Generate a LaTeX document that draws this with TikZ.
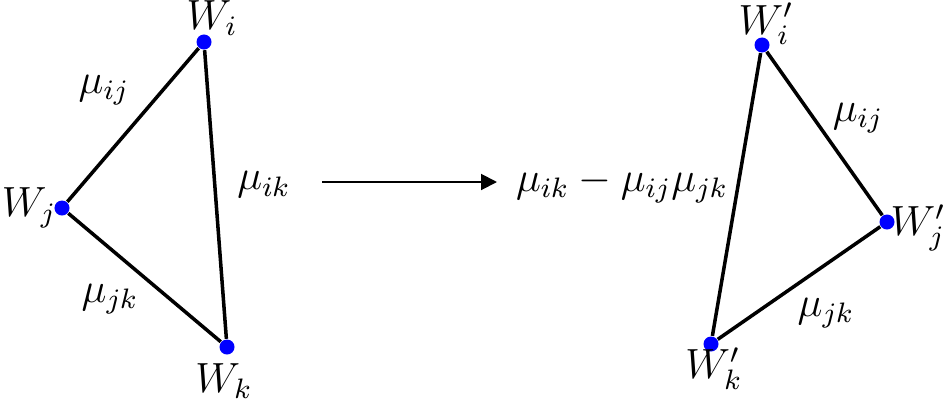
\documentclass[tikz,border=0pt]{standalone}
\usepackage{amsmath}
\usepackage{tikz}
\usetikzlibrary{positioning, arrows.meta}

\tikzset{
  vtx/.style={circle, fill=blue, inner sep=0pt, minimum size=0.15cm},
  edge/.style={line width=1pt},
  lbl/.style={font=\fontsize{11.6}{14}\selectfont, inner sep=1pt}
}

\begin{document}
\begin{tikzpicture}[x=0.01cm, y=-0.01cm]
\useasboundingbox (0,0) rectangle (943,403);
% left triangle
\node[vtx] (Wi) at (204,42) {};
\node[vtx] (Wj) at (62,208) {};
\node[vtx] (Wk) at (227,347) {};
\draw[edge] (Wi) -- (Wj) -- (Wk) -- (Wi);
\node[lbl] (lWi) at (212,18) {$W_i$};
\node[lbl] (lWj) at (29,208) {$W_j$};
\node[lbl] (lWk) at (224,381) {$W_k$};
\node[lbl] (mij) at (104,90) {$\mu_{ij}$};
\node[lbl] (mik) at (264,185) {$\mu_{ik}$};
\node[lbl] (mjk) at (110,299) {$\mu_{jk}$};
% arrow
\coordinate (a0) at (322,182);
\coordinate (a1) at (497,182);
\draw[line width=0.55pt, -{Triangle[length=4.5pt, width=4.5pt]}] (a0) -- (a1);
% right triangle
\node[vtx] (Vi) at (762,45) {};
\node[vtx] (Vj) at (887,222) {};
\node[vtx] (Vk) at (711,344) {};
\draw[edge] (Vi) -- (Vj) -- (Vk) -- (Vi);
\node[lbl] (lVi) at (766,24) {$W_i'$};
\node[lbl] (lVj) at (918,228) {$W_j'$};
\node[lbl] (lVk) at (714,369) {$W_k'$};
\node[lbl] (nij) at (858,118) {$\mu_{ij}$};
\node[lbl] (njk) at (826,313) {$\mu_{jk}$};
\node[lbl] (nik) at (622,185) {$\mu_{ik}-\mu_{ij}\mu_{jk}$};
\end{tikzpicture}
\end{document}
